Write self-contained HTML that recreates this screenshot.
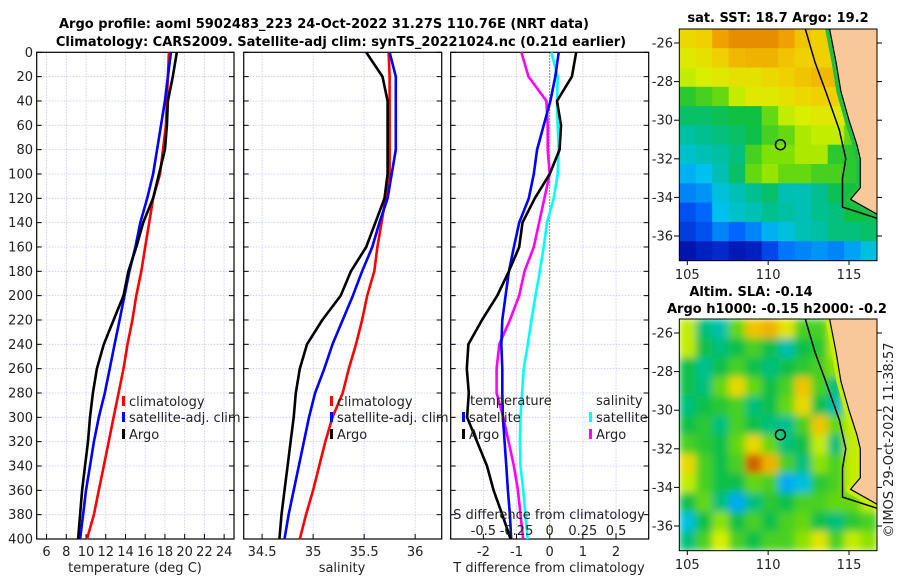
<!DOCTYPE html>
<html><head><meta charset="utf-8"><style>
html,body{margin:0;padding:0;background:#fff;}
svg{display:block;font-family:"DejaVu Sans","Liberation Sans",sans-serif;}
</style></head><body>
<svg id="c" width="900" height="580" viewBox="0 0 900 580" xmlns="http://www.w3.org/2000/svg">
<defs>
<clipPath id="m1c"><rect x="679.3" y="29" width="197.7" height="231.7"/></clipPath>
<clipPath id="m2c"><rect x="679.3" y="319" width="197.7" height="231.7"/></clipPath>
<filter id="blur" x="0" y="0" width="1" height="1"><feGaussianBlur stdDeviation="4" edgeMode="duplicate"/></filter>
</defs>
<text x="324" y="28" text-anchor="middle" font-size="13" font-weight="bold">Argo profile: aoml 5902483_223 24-Oct-2022 31.27S 110.76E (NRT data)</text>
<text x="341" y="46" text-anchor="middle" font-size="13" font-weight="bold">Climatology: CARS2009. Satellite-adj clim: synTS_20221024.nc (0.21d earlier)</text>
<text x="778" y="22" text-anchor="middle" font-size="13" font-weight="bold">sat. SST: 18.7 Argo: 19.2</text>
<text x="751" y="296" text-anchor="middle" font-size="13" font-weight="bold">Altim. SLA: -0.14</text>
<text x="777" y="313" text-anchor="middle" font-size="13" font-weight="bold">Argo h1000: -0.15 h2000: -0.2</text>
<text transform="translate(893,440) rotate(-90)" text-anchor="middle" font-size="13" fill="#222">©IMOS 29-Oct-2022 11:38:57</text>
<g id="g"></g>
</svg>
<script>
const depths=[0,20,40,60,80,100,120,140,160,180,200,220,240,260,280,300,320,340,360,380,400];
const tempClim=[18.4,18.3,18.2,18.1,17.8,17.5,16.8,16.4,16.0,15.6,15.1,14.7,14.2,13.8,13.3,12.8,12.3,11.8,11.3,10.8,10.1];
const tempSat=[18.6,18.3,18.0,17.6,17.2,16.8,16.2,15.5,15.0,14.4,13.9,13.4,12.9,12.4,11.9,11.3,10.8,10.4,10.0,9.7,9.4];
const tempArgo=[19.2,18.8,18.3,18.2,18.0,17.4,16.8,15.8,15.1,14.3,13.8,12.8,11.8,11.1,10.7,10.4,10.2,9.9,9.6,9.4,9.2];
const salClim=[35.74,35.75,35.75,35.75,35.75,35.75,35.71,35.67,35.63,35.6,35.53,35.48,35.42,35.35,35.29,35.19,35.12,35.06,35.0,34.93,34.87];
const salSat=[35.75,35.81,35.81,35.81,35.81,35.77,35.73,35.65,35.58,35.48,35.39,35.29,35.19,35.11,35.02,34.96,34.91,34.86,34.81,34.76,34.72];
const salArgo=[35.52,35.68,35.73,35.73,35.73,35.73,35.7,35.61,35.52,35.37,35.27,35.09,34.94,34.87,34.83,34.81,34.78,34.75,34.72,34.69,34.67];
const tDiffSat=[0.27,0.17,0.02,-0.18,-0.38,-0.48,-0.63,-0.92,-1.08,-1.23,-1.33,-1.43,-1.46,-1.43,-1.43,-1.41,-1.36,-1.31,-1.26,-1.2,-1.16];
const tDiffArgo=[0.8,0.67,0.22,0.34,0.3,0.0,-0.45,-0.82,-0.92,-1.23,-1.58,-2.04,-2.45,-2.5,-2.44,-2.49,-2.19,-1.89,-1.69,-1.43,-1.18];
const sDiffSat=[0.013,0.06,0.055,0.06,0.068,0.06,0.03,-0.02,-0.045,-0.075,-0.107,-0.137,-0.165,-0.196,-0.208,-0.22,-0.225,-0.22,-0.2,-0.183,-0.166];
const sDiffArgo=[-0.213,-0.16,-0.025,-0.015,-0.015,0.0,-0.04,-0.08,-0.12,-0.19,-0.23,-0.3,-0.38,-0.4,-0.4,-0.35,-0.31,-0.27,-0.24,-0.22,-0.2];
const depthTicks=[0,20,40,60,80,100,120,140,160,180,200,220,240,260,280,300,320,340,360,380,400];
const tempTicks=[6,8,10,12,14,16,18,20,22,24];
const salTicks=[34.5,35,35.5,36];
const tDiffTicks=[-2,-1,0,1,2];
const sDiffTicks=[-0.5,-0.25,0,0.25,0.5];
const latTicks=[-26,-28,-30,-32,-34,-36];
const lonTicks=[105,110,115];
const argoLon=110.76, argoLat=-31.27;
const sstGrid=[
[.78,.8,.88,.9,.9,.9,.88,.82,.8,.8,.8,.8],
[.74,.76,.8,.84,.85,.85,.82,.8,.8,.8,.8,.8],
[.7,.72,.74,.76,.76,.78,.8,.82,.84,.84,.8,.8],
[.58,.6,.62,.7,.74,.74,.76,.78,.8,.8,.7,.7],
[.52,.52,.54,.56,.56,.62,.7,.72,.74,.74,.68,.6],
[.46,.48,.5,.52,.55,.6,.62,.68,.7,.7,.62,.6],
[.42,.44,.46,.5,.6,.64,.64,.68,.68,.58,.58,.6],
[.36,.38,.44,.52,.62,.66,.62,.62,.6,.6,.58,.55],
[.3,.32,.4,.44,.48,.52,.44,.44,.48,.54,.56,.55],
[.22,.26,.38,.42,.44,.48,.46,.44,.48,.5,.56,.55],
[.18,.22,.3,.26,.3,.36,.4,.44,.46,.5,.5,.52],
[.08,.12,.14,.1,.12,.2,.28,.3,.32,.3,.34,.4]];
const slaGrid=[
[.7,.5,.45,.62,.82,.85,.75,.6,.6,.7,.7,.7],
[.7,.55,.5,.55,.6,.55,.45,.55,.58,.7,.7,.7],
[.55,.48,.55,.6,.55,.5,.55,.58,.6,.65,.7,.7],
[.55,.5,.62,.78,.62,.55,.6,.82,.6,.5,.7,.7],
[.5,.55,.58,.6,.5,.55,.62,.78,.55,.45,.7,.7],
[.55,.58,.5,.6,.55,.5,.48,.6,.82,.62,.7,.7],
[.6,.58,.55,.62,.78,.62,.5,.55,.7,.5,.7,.7],
[.78,.6,.55,.6,.95,.85,.6,.5,.65,.6,.7,.7],
[.7,.6,.55,.55,.62,.6,.35,.4,.58,.6,.7,.7],
[.55,.62,.5,.35,.5,.58,.55,.6,.6,.62,.62,.7],
[.4,.55,.65,.55,.6,.55,.6,.62,.55,.5,.58,.6],
[.5,.6,.72,.6,.55,.6,.6,.65,.75,.6,.7,.65]];
const landLon=[113.8,114.2,114.5,115.0,115.5,115.7,115.7,115.1,116.8,116.8];
const landLat=[-25.27,-27,-28.5,-30,-31.3,-32,-33.5,-34.1,-34.9,-25.27];
const isoLon=[112.3,112.9,113.6,114.4,114.8,114.6,114.6,116.8];
const isoLat=[-25.27,-27,-28.6,-30.5,-32,-33,-34.5,-35.1];

const NS='http://www.w3.org/2000/svg';
const G=document.getElementById('g');
function mk(tag,attrs,parent){const e=document.createElementNS(NS,tag);for(const k in attrs)e.setAttribute(k,attrs[k]);(parent||G).appendChild(e);return e;}
const Y0=52.3,Y1=539;
const yD=d=>Y0+(d/400)*(Y1-Y0);
const panels=[
 {x0:36.7,x1:234,min:5,max:25,name:'temperature-panel'},
 {x0:243.7,x1:441.7,min:34.32,max:36.26,name:'salinity-panel'},
 {x0:450.7,x1:648.7,min:-2.985,max:2.985,name:'difference-panel'}];
const sx=(p,v)=>p.x0+(v-p.min)/(p.max-p.min)*(p.x1-p.x0);
const sS=v=>sx(panels[2],v*4);

function gridAndFrame(p,xt,vfun,showY){
  const g=mk('g',{});
  
  
  depthTicks.forEach(d=>{const y=yD(d);
    if(d>0&&d<400){const l=mk('line',{x1:p.x0,x2:p.x1,y1:y,y2:y,stroke:'#c4c8e6','stroke-width':0.8,'stroke-dasharray':'1.5,1.5'},g);
      }
    mk('line',{x1:p.x0,x2:p.x0+5,y1:y,y2:y,stroke:'#000'},g);
    mk('line',{x1:p.x1-5,x2:p.x1,y1:y,y2:y,stroke:'#000'},g);
    if(showY){const t=mk('text',{x:33,y:y+4.5,'text-anchor':'end','font-size':13,fill:'#222'},g);t.textContent=d;
      }
  });
  xt.forEach(v=>{const x=vfun(v);
    const l=mk('line',{x1:x,x2:x,y1:Y0,y2:Y1,stroke:v===0&&p.name==='difference-panel'?'#556b2f':'#c4c8e6','stroke-width':v===0&&p.name==='difference-panel'?1:0.8,'stroke-dasharray':'1.5,1.5'},g);
    
    mk('line',{x1:x,x2:x,y1:Y1-5,y2:Y1,stroke:'#000'},g);
    const t=mk('text',{x:x,y:556,'text-anchor':'middle','font-size':13,fill:'#222'},g);t.textContent=v;
    
  });
  const r=mk('rect',{x:p.x0,y:Y0,width:p.x1-p.x0,height:Y1-Y0,fill:'none',stroke:'#000','stroke-width':1.2},g);
  
  return g;
}
function line(vals,fx,color,name){
  const pts=depths.map((d,i)=>fx(vals[i]).toFixed(1)+','+yD(d).toFixed(1)).join(' ');
  const pl=mk('polyline',{points:pts,fill:'none',stroke:color,'stroke-width':2.6,'stroke-linejoin':'round'});
  
  
}
function txt(x,y,s,name,anchor){const t=mk('text',{x:x,y:y,'font-size':13,fill:'#222','text-anchor':anchor||'start'});t.textContent=s;
  return t;}
function legendEntry(x,y,color,label){
  const r=mk('rect',{x:x,y:y-10,width:3,height:10,fill:color});
  
  txt(x+7,y,label,'legend-entry');
}
const P1=panels[0],P2=panels[1],P3=panels[2];
gridAndFrame(P1,tempTicks,v=>sx(P1,v),true);
gridAndFrame(P2,salTicks,v=>sx(P2,v),false);
gridAndFrame(P3,tDiffTicks,v=>sx(P3,v),false);
line(tempClim,v=>sx(P1,v),'#ff0000','temp-climatology-line');
line(tempSat,v=>sx(P1,v),'#0000ff','temp-satellite-line');
line(tempArgo,v=>sx(P1,v),'#000000','temp-argo-line');
line(salClim,v=>sx(P2,v),'#ff0000','sal-climatology-line');
line(salSat,v=>sx(P2,v),'#0000ff','sal-satellite-line');
line(salArgo,v=>sx(P2,v),'#000000','sal-argo-line');
line(sDiffSat,sS,'#00ffff','sdiff-satellite-line');
line(sDiffArgo,sS,'#ff00ff','sdiff-argo-line');
line(tDiffSat,v=>sx(P3,v),'#0000ff','tdiff-satellite-line');
line(tDiffArgo,v=>sx(P3,v),'#000000','tdiff-argo-line');
txt(135,572,'temperature (deg C)','x-axis-title-temperature','middle');
txt(342,572,'salinity','x-axis-title-salinity','middle');
txt(549,572,'T difference from climatology','x-axis-title-tdiff','middle');
txt(549,519,'S difference from climatology','s-axis-title','middle');
sDiffTicks.forEach(v=>{txt(sS(v),535,v,'s-tick-label','middle');});
legendEntry(122,406,'#ff0000','climatology');
legendEntry(122,422,'#0000ff','satellite-adj. clim');
legendEntry(122,439,'#000000','Argo');
legendEntry(330,406,'#ff0000','climatology');
legendEntry(330,422,'#0000ff','satellite-adj. clim');
legendEntry(330,439,'#000000','Argo');
txt(470,405,'temperature','legend-title-temperature');
legendEntry(462,422,'#0000ff','satellite');
legendEntry(462,439,'#000000','Argo');
txt(596,405,'salinity','legend-title-salinity');
legendEntry(589,422,'#00ffff','satellite');
legendEntry(589,439,'#ff00ff','Argo');

const stops=[[0,[0,0,128]],[.12,[0,32,192]],[.25,[0,96,255]],[.38,[0,192,240]],[.48,[0,192,144]],[.56,[16,192,64]],[.64,[128,224,0]],[.72,[216,240,0]],[.8,[240,208,0]],[.88,[240,160,0]],[.95,[208,96,0]],[1,[160,16,0]]];
function cmap(v){v=Math.max(0,Math.min(1,v));for(let i=1;i<stops.length;i++){if(v<=stops[i][0]){const a=stops[i-1],b=stops[i],t=(v-a[0])/(b[0]-a[0]);
  const c=a[1].map((q,k)=>Math.round(q+(b[1][k]-q)*t));return 'rgb('+c.join(',')+')';}}return 'rgb(160,16,0)';}
const lonX=lon=>687.3+(lon-105)*16.17;
function drawMap(top,grid,clip,name,blur){
  const latY=lat=>top+14+(-26-lat)*19.3;
  const g=mk('g',{'clip-path':'url(#'+clip+')'});
  
  const cg=mk('g',blur?{filter:'url(#blur)'}:{},g);
  grid.forEach((row,r)=>row.forEach((v,c)=>{
    const lon=104.5+c*1.02, lat=-25.27-r*1.0;
    const x=lonX(lon),y=latY(lat);
    const cell=mk('rect',{x:x.toFixed(1),y:y.toFixed(1),width:(1.02*16.17+0.6).toFixed(1),height:(19.3+0.6).toFixed(1),fill:cmap(v)},cg);
    
  }));
  const lp=landLon.map((l,i)=>lonX(l).toFixed(1)+','+latY(landLat[i]).toFixed(1)).join(' ');
  const sh=mk('polygon',{points:lp,fill:'none',stroke:blur?'#c8ec00':'#20c040','stroke-width':9,'stroke-linejoin':'round'},g);
  
  const land=mk('polygon',{points:lp,fill:'#f9c89a',stroke:'#000','stroke-width':1.2},g);
  
  const ip=isoLon.map((l,i)=>lonX(l).toFixed(1)+','+latY(isoLat[i]).toFixed(1)).join(' ');
  const iso=mk('polyline',{points:ip,fill:'none',stroke:'#000','stroke-width':1.5},g);
  
  const ci=mk('circle',{cx:lonX(argoLon),cy:latY(argoLat),r:5,fill:'none',stroke:'#000','stroke-width':1.5},g);
  
  const fr=mk('rect',{x:679.3,y:top,width:197.7,height:231.7,fill:'none',stroke:'#000','stroke-width':1});
  
  latTicks.forEach(l=>{const y=latY(l);
    mk('line',{x1:877,x2:882,y1:y,y2:y,stroke:'#000'});
    mk('line',{x1:674,x2:679.3,y1:y,y2:y,stroke:'#000'});
    txt(673,y+4.5,l,'lat-tick-label','end');});
  lonTicks.forEach(l=>{const x=lonX(l);
    mk('line',{x1:x,x2:x,y1:top+231.7,y2:top+236,stroke:'#000'});
    txt(x,top+250,l,'lon-tick-label','middle');});
}
drawMap(29,sstGrid,'m1c','sst-map',false);
drawMap(319,slaGrid,'m2c','sla-map',true);
</script>
</body></html>
